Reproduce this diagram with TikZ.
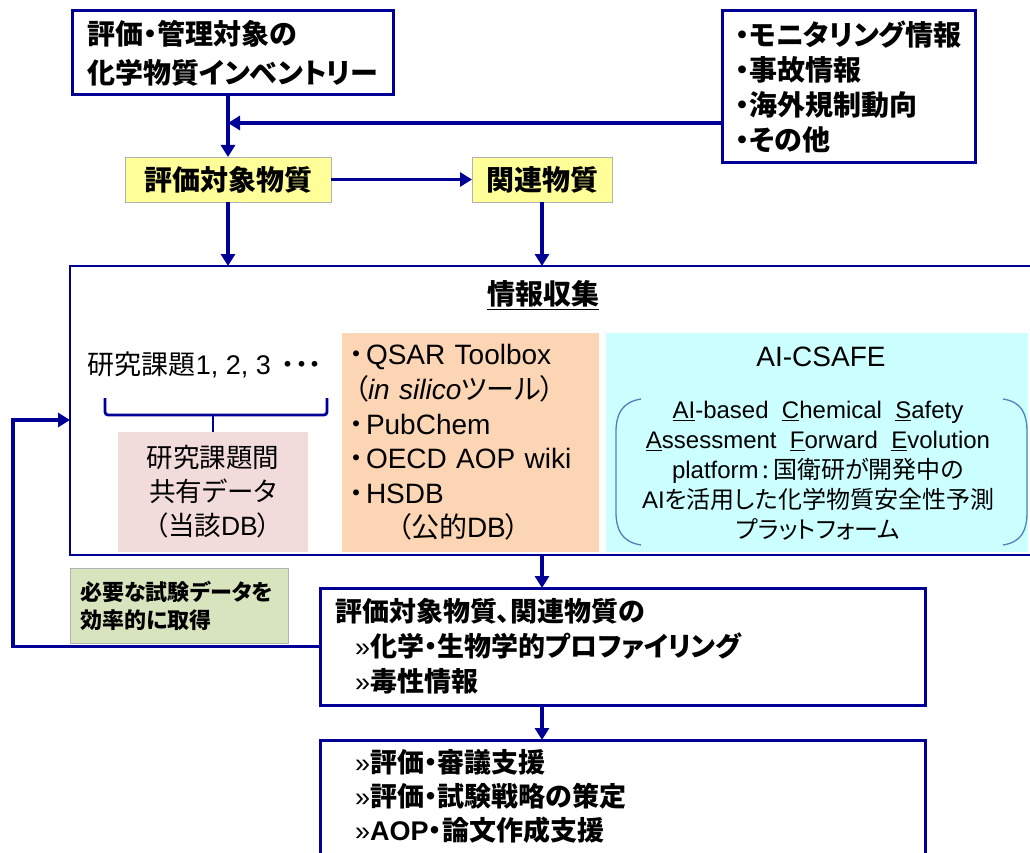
\documentclass[tikz,border=0pt]{standalone}
\usepackage{fontspec}
\setmainfont{Noto Sans CJK JP}[RawFeature=+palt]
\newfontfamily\lat{Liberation Sans}
\usetikzlibrary{arrows.meta}
\definecolor{navy}{RGB}{0,0,150}
\definecolor{yel}{RGB}{255,255,153}
\definecolor{pinkfill}{RGB}{242,220,219}
\definecolor{orangefill}{RGB}{252,213,181}
\definecolor{cyanfill}{RGB}{204,255,255}
\definecolor{greenfill}{RGB}{215,228,189}
\definecolor{brk}{RGB}{79,129,189}
\newcommand{\bigb}{\fontsize{28}{39}\selectfont\bfseries}
\newcommand{\bul}{・\kern3pt}
\begin{document}
\begin{tikzpicture}[x=1pt,y=-1pt,
  every node/.style={inner sep=0pt, outer sep=0pt},
  navybox/.style={draw=navy, line width=3pt, fill=white},
  ybox/.style={draw=black!30, line width=0.8pt, fill=yel, font=\bigb},
  arr/.style={draw=navy, line width=3.5pt, -{Triangle[length=12pt,width=14pt]}},
  brace/.style={draw=navy, line width=2.8pt},
  bracket/.style={draw=brk, line width=1.3pt}]
\useasboundingbox (0,0) rectangle (1030,853);
\clip (0,0) rectangle (1030,853);

% top boxes
\node[navybox, minimum width=321pt, minimum height=84pt, align=left, font=\bigb] (inv) at (232.5,53)
  {評価・管理対象の\\化学物質インベントリー};
\node[navybox, minimum width=253pt, minimum height=152pt, align=left, font=\fontsize{28}{35}\selectfont\bfseries] (mon) at (848.5,87)
  {・モニタリング情報\\・事故情報\\・海外規制動向\\・その他};
\node[ybox, minimum width=206pt, minimum height=45pt] (y1) at (228,179.5) {評価対象物質};
\node[ybox, minimum width=140pt, minimum height=45pt] (y2) at (542,179.5) {関連物質};

% information collection
\node[navybox, line width=2.5pt, fill=none, minimum width=975pt, minimum height=289pt] (info) at (557.5,410.5) {};
\node[font=\bigb] (title) at (543,295) {\underline{情報収集}};
\node[font=\fontsize{27}{34}\selectfont] (kadai) at (205,365) {研究課題{\lat 1, 2, 3} \,・・・};
\node[fill=pinkfill, minimum width=190pt, minimum height=120pt, align=center, font=\fontsize{26.5}{34}\selectfont] (pink) at (213,492)
  {研究課題間\\共有データ\\（当該{\lat DB}）};
\node[fill=orangefill, minimum width=257pt, minimum height=219pt, text width=243pt, inner xsep=7pt, align=left, font=\fontsize{28}{34.6}\selectfont] (orange) at (470.5,442.5)
  {\bul{\lat QSAR Toolbox}\\
   \hspace*{5pt}（{\lat\itshape in silico}ツール）\\
   \bul{\lat PubChem}\\
   \bul{\lat OECD AOP wiki}\\
   \bul{\lat HSDB}\\
   \hspace*{48pt}（公的{\lat DB}）};
\node[fill=cyanfill, minimum width=422pt, minimum height=219pt] (cyan) at (817,442.5) {};
\node[font=\lat\fontsize{28}{30}\selectfont] (csafe) at (821,357) {AI-CSAFE};
\node[align=center, font=\fontsize{24}{30}\selectfont] (desc) at (818,471)
  {{\lat\underline{AI}-based \ \underline{C}hemical \ \underline{S}afety}\\
   {\lat\underline{A}ssessment \ \underline{F}orward \ \underline{E}volution}\\
   {\lat platform}\,:\,国衛研が開発中の\\
   {\lat AI}を活用した化学物質安全性予測\\
   プラットフォーム};
\draw[bracket] (641,399) .. controls (622,402) and (616,414) .. (616,432) -- (616,512) .. controls (616,530) and (622,542) .. (641,545);
\draw[bracket] (1003,399) .. controls (1022,402) and (1027,414) .. (1027,432) -- (1027,512) .. controls (1027,530) and (1022,542) .. (1003,545);
\draw[brace, rounded corners=3pt] (105,398) -- (105,415) -- (327,415) -- (327,398);
\draw[brace] (pink.north |- 0,415) -- (pink.north);

% lower boxes
\node[fill=greenfill, draw=black!30, line width=0.8pt, minimum width=218pt, minimum height=75pt, align=left, font=\fontsize{22}{28}\selectfont\bfseries] (green) at (179,605.5)
  {必要な試験データを\\効率的に取得\hspace*{66pt}};
\node[navybox, minimum width=605pt, minimum height=117pt, text width=575pt, inner xsep=15pt, align=left, font=\fontsize{27}{35}\selectfont\bfseries] (box3) at (622.5,646.5)
  {評価対象物質、関連物質の\\
   \hspace*{20pt}{\lat\mdseries »}化学・生物学的プロファイリング\\
   \hspace*{20pt}{\lat\mdseries »}毒性情報};
\node[navybox, minimum width=605pt, minimum height=130pt] (box4) at (622.5,805) {};
\node[text width=575pt, align=left, font=\fontsize{27}{34}\selectfont\bfseries] (box4t) at (622.5,796.5)
  {\hspace*{20pt}{\lat\mdseries »}評価・審議支援\\
   \hspace*{20pt}{\lat\mdseries »}評価・試験戦略の策定\\
   \hspace*{20pt}{\lat\mdseries »}{\lat AOP}・論文作成支援};

% connectors
\coordinate (jn) at (228,123);
\draw[arr] (inv.south -| y1.north) -- (y1.north);
\draw[arr] (mon.west |- jn) -- (jn);
\draw[arr] (y1.east) -- (y2.west);
\draw[arr] (y1.south) -- (y1.south |- info.north);
\draw[arr] (y2.south) -- (y2.south |- info.north);
\draw[arr] (y2.south |- info.south) -- (y2.south |- box3.north);
\draw[arr] (y2.south |- box3.south) -- (y2.south |- box4.north);
\coordinate (fb) at (13,420);
\draw[arr] (box3.west) -| (fb) -- (fb -| info.west);
\end{tikzpicture}
\end{document}
